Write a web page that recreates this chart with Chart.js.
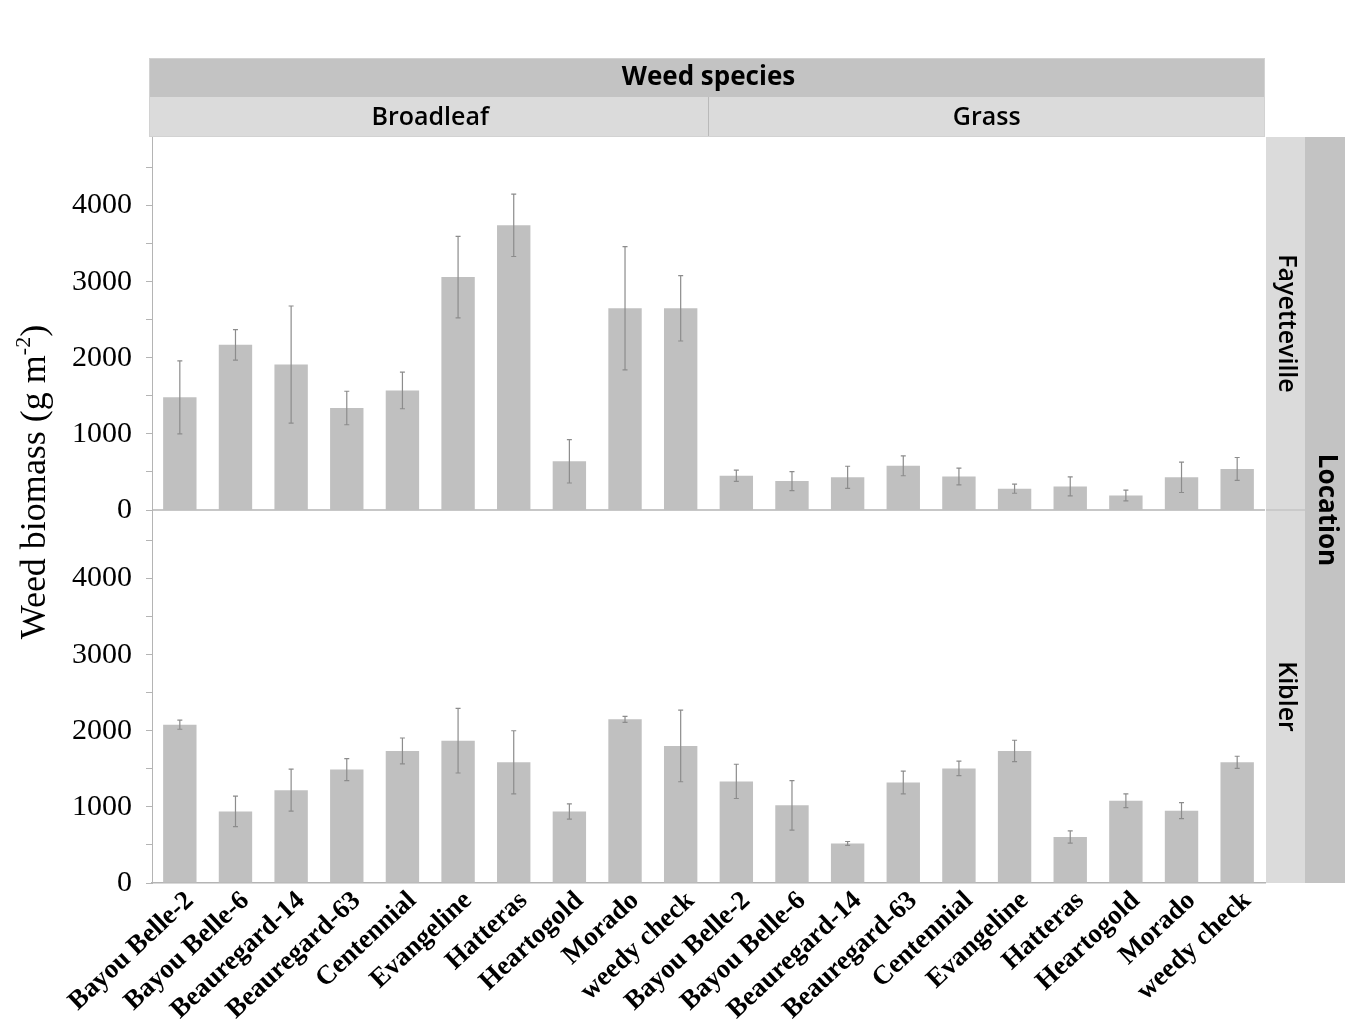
<!DOCTYPE html>
<html><head><meta charset="utf-8">
<script src="https://cdn.jsdelivr.net/npm/chart.js@4.4.1/dist/chart.umd.min.js"></script>
<style>html,body{margin:0;padding:0;background:#fff}#wrap{width:1358px;height:1024px;position:relative}</style>
</head><body><div id="wrap"><canvas id="c"></canvas></div>
<script>
const categories = ['Bayou Belle-2','Bayou Belle-6','Beauregard-14','Beauregard-63','Centennial','Evangeline','Hatteras','Heartogold','Morado','weedy check'];
const speciesGroups = ['Broadleaf','Grass'];
const locations = ['Fayetteville','Kibler'];
const stripTitleTop = 'Weed species';
const stripTitleRight = 'Location';
const labels = [...categories, ...categories];
const fayMean = [1480,2170,1910,1340,1570,3060,3740,640,2650,2650, 450,380,430,580,440,280,310,190,430,540];
const fayErr  = [480,200,770,220,240,535,410,285,810,430, 75,125,145,130,110,60,125,70,200,150];
const kibMean = [2080,940,1220,1490,1735,1870,1585,940,2150,1800, 1335,1020,520,1320,1505,1735,605,1080,950,1585];
const kibErr  = [60,200,275,145,170,425,415,100,40,470, 225,325,25,150,95,140,80,90,105,80];
const majorTicks = [0,1000,2000,3000,4000];
const minorTicks = [500,1500,2500,3500,4500];
const Y_MAX = 4900;

Chart.defaults.font.family = 'Liberation Serif';
Chart.defaults.color = '#000';

function yScale(){
  return {
    type:'linear', axis:'y', position:'left', stack:'loc', stackWeight:1,
    min:0, max:Y_MAX,
    border:{display:true, color:'#b4b4b4', width:1},
    grid:{drawOnChartArea:false, drawTicks:true, tickLength:6, color:'#b4b4b4'},
    ticks:{autoSkip:false, padding:14, color:'#000',
      font:{family:'Liberation Serif', size:30},
      callback:(v)=> majorTicks.includes(v) ? String(v) : ''},
    afterBuildTicks:(s)=>{ s.ticks = [...majorTicks, ...minorTicks].sort((a,b)=>a-b).map(v=>({value:v})); },
    afterFit:(s)=>{ s.width = 152; }
  };
}

const decor = {
  id:'decor',
  afterDatasetsDraw(chart){
    const ctx = chart.ctx;
    ctx.save();
    ctx.strokeStyle = '#8c8c8c';
    ctx.lineWidth = 1.2;
    chart.data.datasets.forEach((ds,di)=>{
      const meta = chart.getDatasetMeta(di);
      const ys = chart.scales[ds.yAxisID];
      meta.data.forEach((bar,i)=>{
        const x = bar.x;
        const yt = ys.getPixelForValue(ds.data[i] + ds.err[i]);
        const yb = ys.getPixelForValue(Math.max(0, ds.data[i] - ds.err[i]));
        ctx.beginPath();
        ctx.moveTo(x, yt); ctx.lineTo(x, yb);
        ctx.moveTo(x-2.5, yt); ctx.lineTo(x+2.5, yt);
        ctx.moveTo(x-2.5, yb); ctx.lineTo(x+2.5, yb);
        ctx.stroke();
      });
    });
    ctx.restore();
  },
  afterDraw(chart){
    const ctx = chart.ctx;
    const {left,right,top,bottom} = chart.chartArea;
    const xs = chart.scales.x, yF = chart.scales.yF, yK = chart.scales.yK;
    const split = (xs.getPixelForValue(9) + xs.getPixelForValue(10)) / 2;
    const panelSplit = yF.getPixelForValue(0);
    ctx.save();
    // zero line of upper panel
    ctx.strokeStyle = '#b4b4b4'; ctx.lineWidth = 1.5;
    ctx.beginPath(); ctx.moveTo(left, panelSplit); ctx.lineTo(right, panelSplit); ctx.stroke();
    // top strips
    ctx.fillStyle = '#c3c3c3';
    ctx.fillRect(left-3, top-79, right-left+3, 39);
    ctx.fillStyle = '#dbdbdb';
    ctx.fillRect(left-3, top-40, right-left+3, 40);
    ctx.strokeStyle = '#b9b9b9'; ctx.lineWidth = 1;
    ctx.beginPath(); ctx.moveTo(split, top-40); ctx.lineTo(split, top); ctx.stroke();
    ctx.strokeStyle = '#d2d2d2';
    ctx.strokeRect(left-3+0.5, top-79+0.5, right-left+2, 78);
    // right strips
    ctx.fillStyle = '#dbdbdb';
    ctx.fillRect(right+1, top, 39, bottom-top);
    ctx.fillStyle = '#c3c3c3';
    ctx.fillRect(right+40, top, 40, bottom-top);
    ctx.strokeStyle = '#b9b9b9';
    ctx.beginPath(); ctx.moveTo(right+1, panelSplit); ctx.lineTo(right+40, panelSplit); ctx.stroke();
    // strip text
    ctx.fillStyle = '#000';
    ctx.textAlign = 'center'; ctx.textBaseline = 'middle';
    ctx.font = 'bold 26px "Open Sans"';
    ctx.fillText(stripTitleTop, (left+right)/2, top-59);
    ctx.font = '600 25px "Open Sans"';
    ctx.fillText(speciesGroups[0], (left+split)/2, top-19);
    ctx.fillText(speciesGroups[1], (split+right)/2, top-19);
    const vtext = (t, x, y, font) => {
      ctx.save(); ctx.translate(x, y); ctx.rotate(Math.PI/2);
      ctx.font = font; ctx.fillText(t, 0, 0); ctx.restore();
    };
    vtext(locations[0], right+21, (yF.top+yF.bottom)/2, '600 25px "Open Sans"');
    vtext(locations[1], right+21, (yK.top+yK.bottom)/2, '600 25px "Open Sans"');
    vtext(stripTitleRight, right+61, (top+bottom)/2, 'bold 26px "Open Sans"');
    // y axis title
    ctx.save();
    ctx.translate(36, 482);
    ctx.rotate(-Math.PI/2);
    ctx.textAlign = 'left'; ctx.textBaseline = 'middle';
    const mainFont = '36px "Liberation Serif"', supFont = '22px "Liberation Serif"';
    const p1 = 'Weed biomass (g m', p2 = '-2', p3 = ')';
    ctx.font = mainFont; const w1 = ctx.measureText(p1).width, w3 = ctx.measureText(p3).width;
    ctx.font = supFont; const w2 = ctx.measureText(p2).width;
    let x0 = -(w1+w2+w3)/2;
    ctx.font = mainFont; ctx.fillText(p1, x0, 0);
    ctx.font = supFont; ctx.fillText(p2, x0+w1, -12);
    ctx.font = mainFont; ctx.fillText(p3, x0+w1+w2, 0);
    ctx.restore();
    ctx.restore();
  }
};

new Chart(document.getElementById('c'), {
  type:'bar',
  data:{
    labels,
    datasets:[
      {label:locations[1], data:kibMean, err:kibErr, yAxisID:'yK', backgroundColor:'#c0c0c0', barPercentage:0.6, categoryPercentage:1, grouped:false},
      {label:locations[0], data:fayMean, err:fayErr, yAxisID:'yF', backgroundColor:'#c0c0c0', barPercentage:0.6, categoryPercentage:1, grouped:false}
    ]
  },
  options:{
    responsive:true, maintainAspectRatio:false, animation:false, devicePixelRatio:1,
    layout:{padding:{top:137, right:93, left:0, bottom:0}},
    plugins:{legend:{display:false}, tooltip:{enabled:false}},
    scales:{
      x:{type:'category', offset:true,
        grid:{display:false, drawTicks:false},
        border:{display:true, color:'#b4b4b4', width:1.5},
        ticks:{autoSkip:false, minRotation:43, maxRotation:43, padding:2, labelOffset:10, color:'#000',
          font:{family:'Liberation Serif', size:27, weight:'bold'}},
        afterFit:(s)=>{ s.height = 1024-883; }
      },
      yK: yScale(),
      yF: yScale()
    }
  },
  plugins:[decor]
});
</script>
</body></html>
